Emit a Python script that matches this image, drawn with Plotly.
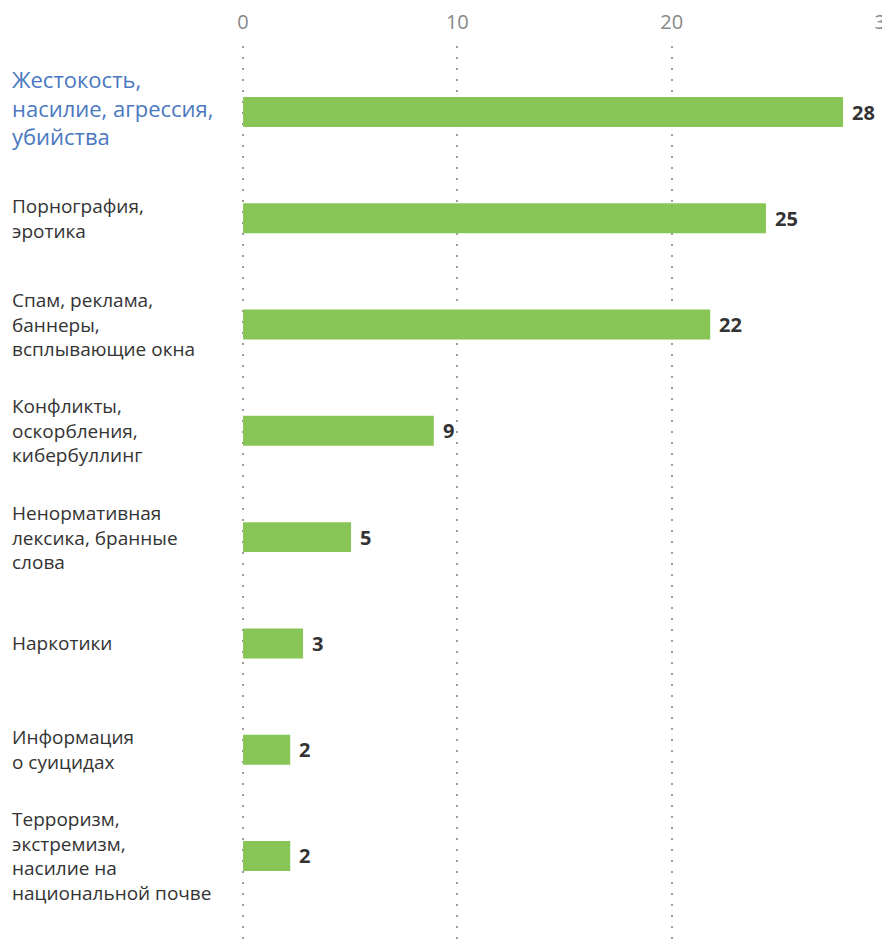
import plotly.graph_objects as go

categories = [
    "Жестокость,<br>насилие, агрессия,<br>убийства",
    "Порнография,<br>эротика",
    "Спам, реклама,<br>баннеры,<br>всплывающие окна",
    "Конфликты,<br>оскорбления,<br>кибербуллинг",
    "Ненормативная<br>лексика, бранные<br>слова",
    "Наркотики",
    "Информация<br>о суицидах",
    "Терроризм,<br>экстремизм,<br>насилие на<br>национальной почве",
]
values = [28.0, 24.4, 21.8, 8.9, 5.04, 2.8, 2.2, 2.2]
value_labels = ["28", "25", "22", "9", "5", "3", "2", "2"]
tick_vals = [0, 10, 20, 30]
tick_text = ["0", "10", "20", "30"]

FONT = "Open Sans"
BAR = "#88c557"

fig = go.Figure()
fig.add_trace(go.Bar(
    x=values, y=categories, orientation="h",
    marker=dict(color=BAR, line=dict(width=0)),
    width=0.282, hoverinfo="skip",
))

annotations = []
for i, (c, v, t) in enumerate(zip(categories, values, value_labels)):
    annotations.append(dict(
        x=v, y=c, xref="x", yref="y", text=t, showarrow=False,
        xanchor="left", yanchor="middle", xshift=7,
        font=dict(family=FONT, size=20, color="#333333", weight="bold"),
    ))
    first = i == 0
    annotations.append(dict(
        x=-0.3595, y=c, xref="paper", yref="y", text=c, showarrow=False,
        xanchor="left", yanchor="middle", align="left",
        yshift=5 if first else 0,
        font=dict(family=FONT, size=22 if first else 19,
                  color="#4a78c0" if first else "#333333"),
    ))

fig.update_layout(
    width=890, height=948,
    margin=dict(l=234, r=11, t=38, b=0),
    paper_bgcolor="white", plot_bgcolor="white",
    showlegend=False,
    annotations=annotations,
    xaxis=dict(
        side="top", range=[-0.05, 30.05], tickvals=tick_vals, ticktext=tick_text,
        showgrid=True, gridcolor="#9c9c9c", griddash="2px,9px", gridwidth=2,
        zeroline=False, showline=False, ticks="",
        tickfont=dict(family=FONT, size=20, color="#888888"),
        ticklabelstandoff=12,
    ),
    yaxis=dict(
        type="category", range=[7.941, -0.621],
        showticklabels=False, showgrid=False, zeroline=False, showline=False,
        ticks="",
    ),
)

fig.write_html("out.html")
